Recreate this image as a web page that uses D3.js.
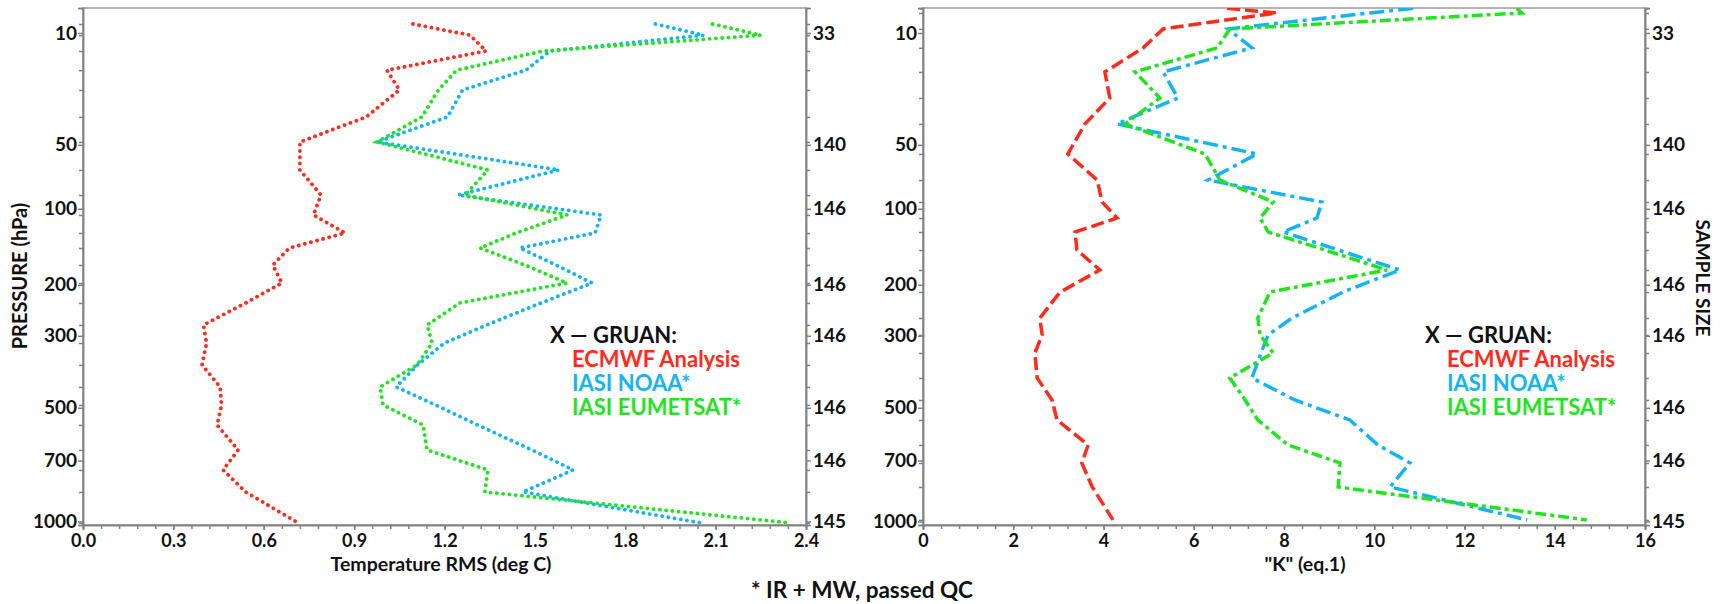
<!DOCTYPE html>
<html>
<head>
<meta charset="utf-8">
<script src="https://cdn.jsdelivr.net/npm/d3@7"></script>
<style>
  body { margin: 0; background: #fff; }
  text { font-family: Lato, "Open Sans", sans-serif; font-weight: bold; }
  .axis path, .axis line { stroke: #808080; stroke-width: 1.5; }
  .axis text { font-size: 19px; fill: #111; font-family: Lato, "Open Sans", sans-serif; font-weight: bold; }
</style>
</head>
<body>
<script>
'use strict';

// pressure levels (hPa)
const pressureT = [8.5, 10.4, 13.6, 18.4, 24.6, 35.4, 48.3, 66.6, 87.0, 106.3, 126.4, 145.1, 168.8,
  197.0, 232.2, 276.2, 316.7, 371.9, 434.2, 490.6, 559.6, 655.8, 741.3, 844.8, 1008];
const pressureK = [6.3, 6.9, 9.3, 12.9, 18.9, 27.5, 38.7, 55.6, 74.3, 93.4, 109.5, 125.2, 147.8,
  176.3, 212.3, 261.6, 298.2, 341.0, 407.9, 474.5, 541.8, 635.7, 710.5, 820.4, 991.5];

// temperature RMS (deg C)
const rmsEcmwf = [1.095, 1.285, 1.338, 1.009, 1.05, 0.94, 0.72, 0.72, 0.79, 0.765, 0.87, 0.685, 0.63,
  0.66, 0.54, 0.40, 0.41, 0.395, 0.455, 0.46, 0.445, 0.515, 0.465, 0.54, 0.714];
const rmsNoaa = [1.90, 2.06, 1.55, 1.47, 1.26, 1.21, 0.976, 1.58, 1.245, 1.72, 1.70, 1.45, 1.57,
  1.69, 1.52, 1.34, 1.20, 1.11, 1.04, 1.17, 1.31, 1.49, 1.627, 1.46, 2.05];
const rmsEumetsat = [2.09, 2.25, 1.527, 1.24, 1.18, 1.125, 0.976, 1.344, 1.268, 1.607, 1.437, 1.318, 1.467,
  1.607, 1.251, 1.142, 1.159, 1.109, 0.986, 0.996, 1.129, 1.142, 1.344, 1.334, 2.347];

// "K" (eq.1)
const kEcmwf = [6.74, 7.84, 5.32, 4.88, 4.03, 4.14, 3.59, 3.21, 3.86, 3.97, 4.30, 3.37, 3.41,
  3.92, 3.04, 2.59, 2.64, 2.48, 2.53, 2.86, 2.97, 3.66, 3.52, 3.75, 4.21];
const kNoaa = [10.86, 9.9, 6.76, 7.29, 5.32, 5.65, 4.30, 7.40, 6.32, 8.84, 8.73, 7.98, 9.2,
  10.57, 9.31, 8.18, 7.65, 7.49, 7.29, 8.24, 9.46, 10.08, 10.79, 10.35, 13.39];
const kEumetsat = [13.16, 13.27, 6.80, 6.52, 4.70, 5.25, 4.48, 6.25, 6.58, 7.76, 7.47, 7.65, 8.91,
  10.28, 7.69, 7.42, 7.47, 7.76, 6.80, 7.14, 7.42, 8.09, 9.24, 9.20, 14.71];

const pressureTicks = [10, 50, 100, 200, 300, 500, 700, 1000];
const sampleSize = [33, 140, 146, 146, 146, 146, 146, 145];
const tempTicks = [0, 0.3, 0.6, 0.9, 1.2, 1.5, 1.8, 2.1, 2.4];
const kTicks = [0, 2, 4, 6, 8, 10, 12, 14, 16];
const legendNames = ["ECMWF Analysis", "IASI NOAA*", "IASI EUMETSAT*"];

const colors = ["#ff2a1a", "#12b4f4", "#1ee51e"];

const svg = d3.select('body').append('svg')
  .attr('width', 1729)
  .attr('height', 604);

const plotTop = 8, plotBottom = 525;

// same vertical pressure scale for both panels
function makeY() {
  return d3.scalePow().exponent(0.25).domain([6.26, 1020]).range([plotTop, plotBottom]);
}

// axis with ticks only, no labels
function minorAxis(g, axis) {
  g.call(axis.tickFormat(''));
  g.selectAll('text').remove();
}

function drawPanel(cfg) {
  let x = d3.scaleLinear().domain(cfg.xDomain).range([cfg.left, cfg.right]);
  let y = makeY();
  let g = svg.append('g');

  // clip to the plot box
  g.append('clipPath').attr('id', cfg.id)
    .append('rect')
    .attr('x', cfg.left).attr('y', plotTop)
    .attr('width', cfg.right - cfg.left).attr('height', plotBottom - plotTop);

  g.append('rect')
    .attr('x', cfg.left).attr('y', plotTop)
    .attr('width', cfg.right - cfg.left).attr('height', plotBottom - plotTop)
    .attr('fill', 'none').attr('stroke', '#9a9a9a').attr('stroke-width', 1.5);

  // x axis, minor then major
  minorAxis(g.append('g').attr('class', 'axis')
    .attr('transform', 'translate(0,' + plotBottom + ')'),
    d3.axisBottom(x).tickValues(d3.range(0, cfg.xDomain[1] + 1e-9, cfg.minor)).tickSize(4));
  g.append('g').attr('class', 'axis')
    .attr('transform', 'translate(0,' + plotBottom + ')')
    .call(d3.axisBottom(x).tickValues(cfg.xTicks).tickSize(5).tickPadding(4).tickFormat(cfg.fmt))
    .selectAll('text').style('font-size', '18px');

  // pressure axis on the left
  minorAxis(g.append('g').attr('class', 'axis')
    .attr('transform', 'translate(' + cfg.left + ',0)'),
    d3.axisLeft(y).tickValues(cfg.levels).tickSize(4));
  g.append('g').attr('class', 'axis')
    .attr('transform', 'translate(' + cfg.left + ',0)')
    .call(d3.axisLeft(y).tickValues(pressureTicks).tickSize(5).tickPadding(1).tickFormat(d3.format('d')));

  // sample size on the right
  minorAxis(g.append('g').attr('class', 'axis')
    .attr('transform', 'translate(' + cfg.right + ',0)'),
    d3.axisRight(y).tickValues(cfg.levels).tickSize(4));
  g.append('g').attr('class', 'axis')
    .attr('transform', 'translate(' + cfg.right + ',0)')
    .call(d3.axisRight(y).tickValues(pressureTicks).tickSize(5).tickPadding(2)
      .tickFormat((d, i) => sampleSize[i]));

  g.selectAll('.domain').attr('stroke', '#8a8a8a');

  let line = d3.line()
    .x(d => x(d[0]))
    .y(d => y(d[1]));

  cfg.series.forEach((s, i) => {
    g.append('path')
      .datum(s.map((v, j) => [v, cfg.levels[j]]))
      .attr('clip-path', 'url(#' + cfg.id + ')')
      .attr('fill', 'none')
      .attr('stroke', colors[i])
      .attr('stroke-width', cfg.width)
      .attr('stroke-linecap', cfg.cap)
      .attr('stroke-dasharray', cfg.dash[i])
      .attr('d', line);
  });

  // legend
  g.append('text')
    .attr('x', cfg.legendX).attr('y', 343)
    .style('font-size', '22px').attr('fill', '#111')
    .text('X \u2014 GRUAN:');
  legendNames.forEach((name, i) => {
    g.append('text')
      .attr('x', cfg.legendX + 22).attr('y', 367 + i * 24)
      .style('font-size', '22px').attr('fill', colors[i])
      .text(name);
  });

  g.append('text')
    .attr('x', cfg.titleX).attr('y', 571)
    .attr('text-anchor', 'middle')
    .style('font-size', '19.5px').attr('fill', '#111')
    .text(cfg.title);
}

drawPanel({
  id: 'clipT', left: 83, right: 806,
  xDomain: [0, 2.4], xTicks: tempTicks, minor: 0.06, fmt: d3.format('.1f'),
  levels: pressureT,
  series: [rmsEcmwf, rmsNoaa, rmsEumetsat],
  width: 3.8, cap: 'round', dash: ['0.1 6.2', '0.1 6.2', '0.1 6.2'],
  legendX: 550, title: 'Temperature RMS  (deg C)', titleX: 441
});

drawPanel({
  id: 'clipK', left: 923, right: 1645,
  xDomain: [0, 16], xTicks: kTicks, minor: 0.4, fmt: d3.format('d'),
  levels: pressureK,
  series: [kEcmwf, kNoaa, kEumetsat],
  width: 3.5, cap: 'butt', dash: ['13 5', '15 5 4 5', '11 4 4 4'],
  legendX: 1425, title: '"K" (eq.1)', titleX: 1305
});

svg.append('text')
  .attr('transform', 'translate(27,276)rotate(-90)')
  .attr('text-anchor', 'middle')
  .style('font-size', '20px').attr('fill', '#111')
  .text('PRESSURE (hPa)');

svg.append('text')
  .attr('transform', 'translate(1696,278)rotate(90)')
  .attr('text-anchor', 'middle')
  .style('font-size', '19px').attr('fill', '#111')
  .text('SAMPLE SIZE');

svg.append('text')
  .attr('x', 862).attr('y', 598)
  .attr('text-anchor', 'middle')
  .style('font-size', '22.5px').attr('fill', '#111')
  .text('* IR + MW, passed QC');
</script>
</body>
</html>
